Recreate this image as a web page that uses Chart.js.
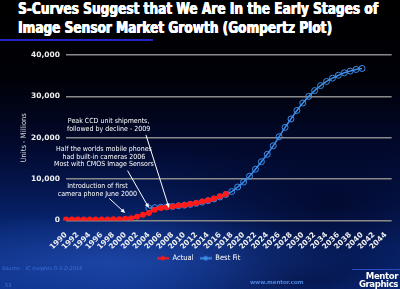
<!DOCTYPE html>
<html>
<head>
<meta charset="utf-8">
<script src="https://cdn.jsdelivr.net/npm/chart.js@4.4.1/dist/chart.umd.min.js"></script>
<style>
  html, body { margin: 0; padding: 0; }
  body {
    width: 400px; height: 289px; overflow: hidden; position: relative;
    background:
      radial-gradient(ellipse 240px 50px at 110px 262px, rgba(50,100,210,0.45), rgba(0,0,0,0)),
      radial-gradient(ellipse 190px 80px at 330px 205px, rgba(0,0,25,0.65), rgba(0,0,0,0)),
      radial-gradient(ellipse 160px 40px at 300px 280px, rgba(0,5,40,0.6), rgba(0,0,0,0)),
      linear-gradient(to bottom, #000 0%, #000108 28%, #020a30 52%, #07246e 78%, #0b2f88 100%);
  }
  #chart { position: absolute; left: 0; top: 0; }
  .tline {
    position: absolute; left: 18px; color: #fff;
    font-family: "DejaVu Sans Condensed", "DejaVu Sans", sans-serif;
    font-weight: bold; font-size: 15px; line-height: 16px;
    white-space: nowrap; transform-origin: 0 0;
    text-shadow: 0.5px 0 0 #fff, -0.3px 0 0 #fff;
  }
  .underline { position: absolute; left: 0; top: 39px; width: 153px; height: 2px; background: #2424c8; }
  .foot { position: absolute; font-family: "DejaVu Sans", sans-serif; color: #3f74e0; white-space: nowrap; }
  .logo {
    position: absolute; right: 2px; top: 272px; color: #fff; text-align: right;
    font-family: "DejaVu Sans Condensed", sans-serif;
    font-weight: bold; font-size: 9.5px; line-height: 8px; letter-spacing: -0.4px;
  }
</style>
</head>
<body>
<div class="tline" id="t1" style="top:1px;" data-w="360">S-Curves Suggest that We Are In the Early Stages of</div>
<div class="tline" id="t2" style="top:20px;" data-w="314">Image Sensor Market Growth (Gompertz Plot)</div>
<div class="underline"></div>
<canvas id="chart" width="400" height="289"></canvas>
<div class="foot" style="left:2px;top:265px;font-size:5px;font-style:italic;">Source:&nbsp;&nbsp; IC Insights O-S-D 2016</div>
<div class="foot" style="left:5px;top:282px;font-size:5px;">53</div>
<div class="foot" style="left:250px;top:279px;font-size:5.5px;font-weight:bold;color:#4a86e0;">www.mentor.com</div>
<div style="position:absolute;left:352px;top:269px;width:48px;height:1px;background:#2a4cc0;"></div>
<div class="logo">Mentor<br>Graphics</div>
<script>
// squeeze the title lines to the condensed width of the slide font
document.querySelectorAll('.tline').forEach(el => {
    const w = el.getBoundingClientRect().width;
    el.style.transform = 'scaleX(' + (Number(el.dataset.w) / w) + ')';
});

// years on the category axis
const years = [1990, 1991, 1992, 1993, 1994, 1995, 1996, 1997, 1998, 1999,
  2000, 2001, 2002, 2003, 2004, 2005, 2006, 2007, 2008, 2009,
  2010, 2011, 2012, 2013, 2014, 2015, 2016, 2017, 2018, 2019,
  2020, 2021, 2022, 2023, 2024, 2025, 2026, 2027, 2028, 2029,
  2030, 2031, 2032, 2033, 2034, 2035, 2036, 2037, 2038, 2039,
  2040, 2041, 2042, 2043, 2044, 2045];

// Actual shipments, 1990 - 2017 (millions of units)
const actualStart = 1990;
const actualValues = [220, 230, 240, 240, 250, 250, 260, 270, 280, 300,
  400, 550, 900, 1400, 1800, 2600, 3000, 3200, 3400, 3600,
  3750, 4000, 4250, 4600, 4900, 5300, 5850, 6400];

// Gompertz best fit, 2004 - 2040
const fitStart = 2004;
const fitValues = [3000, 3100, 3200, 3300, 3400, 3550, 3700, 3900, 4150, 4450,
  4800, 5200, 5700, 6300, 7000, 8100, 9300, 10700, 12400, 14200,
  16000, 18050, 20250, 22500, 24550, 26600, 28400, 30000, 31400, 32600,
  33600, 34400, 35100, 35700, 36100, 36500, 36750];

const yTickValues = [0, 10000, 20000, 30000, 40000];

const redColor = '#ff1a1a';
const blueColor = '#3d8ee8';

function padSeries(start, values) {
    return years.map(y => {
        const i = y - start;
        return (i >= 0 && i < values.length) ? values[i] : null;
    });
}

// small legend glyph: line with a marker in the middle
function legendGlyph(color) {
    const c = document.createElement('canvas');
    c.width = 12; c.height = 7;
    const g = c.getContext('2d');
    g.strokeStyle = color;
    g.lineWidth = 2;
    g.beginPath(); g.moveTo(0, 3.5); g.lineTo(12, 3.5); g.stroke();
    g.beginPath(); g.arc(6, 3.5, 2.2, 0, Math.PI * 2);
    g.fillStyle = color;
    g.fill();
    return c;
}

// callouts placed in data coordinates (year, value)
const callouts = [
    { lines: ['Peak CCD unit shipments,', 'followed by decline - 2009'], year: 1997.2, value: 23900,
      from: [2003.5, 20700], to: [2007.4, 3050] },
    { lines: ['Half the worlds mobile phones', 'had built-in cameras 2006', 'Most with CMOS Image Sensors'], year: 1996.4, value: 17200,
      from: [2000.4, 12050], to: [2004.0, 3050] },
    { lines: ['Introduction of first', 'camera phone June 2000'], year: 1995.3, value: 8250,
      from: [1997.3, 5350], to: [2000.0, 1800] }
];

const calloutPlugin = {
    id: 'callouts',
    afterDatasetsDraw(chart) {
        const ctx = chart.ctx;
        const xs = chart.scales.x, ys = chart.scales.y;
        const px = yr => xs.getPixelForValue(yr - years[0]);
        ctx.save();
        ctx.fillStyle = '#ffffff';
        ctx.strokeStyle = '#ffffff';
        ctx.font = '7px "DejaVu Sans Condensed", "DejaVu Sans", sans-serif';
        ctx.textAlign = 'center';
        ctx.textBaseline = 'middle';
        callouts.forEach(c => {
            const cx = px(c.year);
            let cy = ys.getPixelForValue(c.value);
            c.lines.forEach(t => { ctx.fillText(t, cx, cy); cy += 7.5; });
            const x1 = px(c.from[0]), y1 = ys.getPixelForValue(c.from[1]);
            const x2 = px(c.to[0]), y2 = ys.getPixelForValue(c.to[1]);
            const a = Math.atan2(y2 - y1, x2 - x1);
            ctx.lineWidth = 1;
            ctx.beginPath(); ctx.moveTo(x1, y1);
            ctx.lineTo(x2 - 3 * Math.cos(a), y2 - 3 * Math.sin(a)); ctx.stroke();
            ctx.beginPath();
            ctx.moveTo(x2, y2);
            ctx.lineTo(x2 - 4.5 * Math.cos(a) + 2 * Math.sin(a), y2 - 4.5 * Math.sin(a) - 2 * Math.cos(a));
            ctx.lineTo(x2 - 4.5 * Math.cos(a) - 2 * Math.sin(a), y2 - 4.5 * Math.sin(a) + 2 * Math.cos(a));
            ctx.closePath(); ctx.fill();
        });
        ctx.restore();
    }
};

const ctx = document.getElementById('chart');
new Chart(ctx, {
    type: 'line',
    data: {
        labels: years.map(String),
        datasets: [
            {
                label: 'Actual',
                data: padSeries(actualStart, actualValues),
                borderColor: redColor,
                backgroundColor: redColor,
                borderWidth: 2.5,
                pointRadius: 3,
                pointBorderWidth: 0,
                tension: 0.3
            },
            {
                label: 'Best Fit',
                data: padSeries(fitStart, fitValues),
                borderColor: blueColor,
                backgroundColor: 'rgba(0,0,0,0)',
                borderWidth: 1.5,
                pointRadius: 3,
                pointBorderWidth: 1,
                tension: 0.4
            }
        ]
    },
    options: {
        responsive: false,
        animation: false,
        spanGaps: false,
        layout: { padding: { top: 55, right: 3, left: 0, bottom: 17 } },
        plugins: {
            legend: {
                position: 'bottom',
                labels: {
                    color: '#ffffff',
                    font: { family: '"DejaVu Sans Condensed", "DejaVu Sans", sans-serif', size: 7.5 },
                    usePointStyle: true,
                    pointStyleWidth: 12,
                    boxHeight: 7,
                    padding: 6,
                    generateLabels(chart) {
                        return chart.data.datasets.map((ds, i) => ({
                            text: ds.label,
                            fontColor: '#ffffff',
                            pointStyle: legendGlyph(ds.borderColor),
                            datasetIndex: i,
                            hidden: false,
                            lineWidth: 0,
                            strokeStyle: 'rgba(0,0,0,0)',
                            fillStyle: 'rgba(0,0,0,0)'
                        }));
                    }
                }
            },
            tooltip: { enabled: false }
        },
        scales: {
            x: {
                grid: { display: false },
                border: { display: false },
                afterFit(scale) { scale.height = 28; },
                ticks: {
                    color: '#eeeeee',
                    autoSkip: false,
                    minRotation: 45,
                    maxRotation: 45,
                    padding: 2,
                    font: { family: '"DejaVu Sans", sans-serif', size: 7.5, weight: 'bold' },
                    callback(value, index) {
                        return index % 2 === 0 ? this.getLabelForValue(value) : '';
                    }
                }
            },
            y: {
                min: 0,
                max: 40000,
                afterFit(scale) { scale.width = 66; },
                afterBuildTicks(scale) { scale.ticks = yTickValues.map(v => ({ value: v })); },
                border: { display: false },
                grid: { color: '#8a8a8a', lineWidth: 1.5, drawTicks: false },
                title: {
                    display: true,
                    text: 'Units - Millions',
                    color: '#d8d8d8',
                    padding: { top: 20, bottom: 0 },
                    font: { family: '"DejaVu Sans Condensed", "DejaVu Sans", sans-serif', size: 7.5 }
                },
                ticks: {
                    color: '#eeeeee',
                    padding: 6,
                    font: { family: '"DejaVu Sans", sans-serif', size: 7.5, weight: 'bold' },
                    callback(value) { return value.toLocaleString('en-US'); }
                }
            }
        }
    },
    plugins: [calloutPlugin]
});
</script>
</body>
</html>
